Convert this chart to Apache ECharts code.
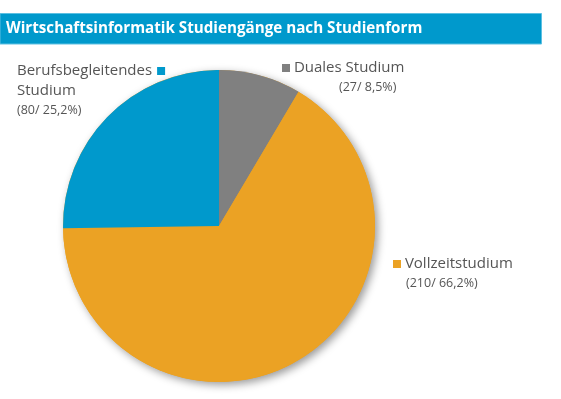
<!DOCTYPE html>
<html>
<head>
<meta charset="utf-8">
<script src="https://cdn.jsdelivr.net/npm/echarts@6/dist/echarts.min.js"></script>
<style>
html,body{margin:0;padding:0;background:#fff;}
#chart{width:561px;height:399px;}
</style>
</head>
<body>
<div id="chart"></div>
<script>
var titleText = 'Wirtschaftsinformatik Studiengänge nach Studienform';
var categories = ['Duales Studium', 'Vollzeitstudium', 'Berufsbegleitendes Studium'];
var values = [27, 210, 80];
var percentLabels = ['8,5%', '66,2%', '25,2%'];
var colors = ['#808080', '#eba224', '#0099cc'];

var labelPos = [
  {x: 282, y: 58},
  {x: 393, y: 254},
  {x: 17, y: 61}
];

function fmt(params) {
  var i = params.dataIndex;
  var sub = '(' + values[i] + '/ ' + percentLabels[i] + ')';
  var sq = '{sq' + i + '| }';
  if (i === 0) {
    return sq + '{t| Duales Studium}\n{s0|' + sub + '}';
  } else if (i === 1) {
    return sq + '{t| Vollzeitstudium}\n{s1|' + sub + '}';
  } else {
    var parts = categories[i].split(' ');
    return '{t|' + parts[0] + '}{gap| }' + sq + '\n{t|' + parts[1] + '}\n{s|' + sub + '}';
  }
}

var textColor = '#555555';
var font = '"Open Sans", sans-serif';

var chart = echarts.init(document.getElementById('chart'));
var total = values.reduce(function (a, b) { return a + b; }, 0);

chart.setOption({
  animation: false,
  graphic: [
    {
      type: 'rect',
      shape: {x: 0, y: 13.5, width: 541.5, height: 30.5},
      style: {fill: '#0099cc', stroke: '#5cc0e2', lineWidth: 1}
    },
    {
      type: 'text',
      x: 6, y: 28.5,
      style: {
        text: titleText,
        fill: '#ffffff',
        font: 'bold 15.2px "Open Sans", sans-serif',
        verticalAlign: 'middle'
      }
    }
  ],
  series: [
    {
      type: 'pie',
      silent: true,
      center: [219, 226],
      radius: 156,
      label: {show: false},
      labelLine: {show: false},
      itemStyle: {
        color: '#eba224',
        shadowBlur: 8,
        shadowColor: 'rgba(0,0,0,0.4)',
        shadowOffsetX: 3,
        shadowOffsetY: 3
      },
      data: [{value: total, name: 'shadow'}]
    },
    {
      type: 'pie',
      center: [219, 226],
      radius: 156,
      startAngle: 90,
      clockwise: true,
      avoidLabelOverlap: false,
      itemStyle: {borderWidth: 0},
      data: categories.map(function (c, i) {
        return {name: c, value: values[i], itemStyle: {color: colors[i]}};
      }),
      labelLine: {show: false},
      label: {
        show: true,
        position: 'outside',
        formatter: fmt,
        rich: {
          t: {fontSize: 15, color: textColor, fontFamily: font, lineHeight: 20},
          s: {fontSize: 12.5, color: textColor, fontFamily: font, lineHeight: 18},
          s0: {fontSize: 12.5, color: textColor, fontFamily: font, lineHeight: 18, padding: [0, 0, 0, 57]},
          s1: {fontSize: 12.5, color: textColor, fontFamily: font, lineHeight: 18, padding: [0, 0, 0, 13]},
          gap: {width: 5, fontSize: 15},
          sq0: {width: 8, height: 8, backgroundColor: colors[0], fontSize: 8},
          sq1: {width: 8, height: 8, backgroundColor: colors[1], fontSize: 8},
          sq2: {width: 8, height: 8, backgroundColor: colors[2], fontSize: 8}
        }
      },
      labelLayout: function (params) {
        var p = labelPos[params.dataIndex];
        return {x: p.x, y: p.y, align: 'left', verticalAlign: 'top', moveOverlap: null};
      }
    }
  ]
});
</script>
</body>
</html>
